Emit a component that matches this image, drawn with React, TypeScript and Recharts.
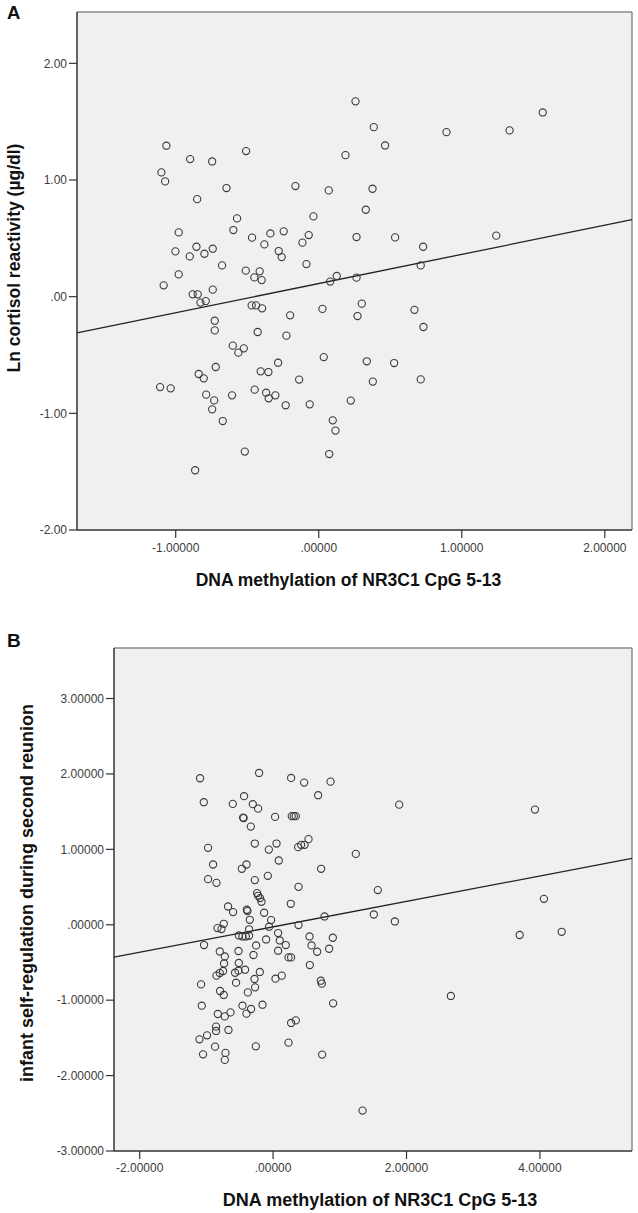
import React from 'react';
import { ScatterChart, Scatter, XAxis, YAxis, CartesianGrid, ReferenceLine } from 'recharts';

// Panel A: methylation vs ln cortisol reactivity
const methylationA = [
  0.257, 0.385, 0.464, 0.187, -1.065, -0.899, -0.745, -0.508, -1.1, -1.074,
  -0.645, -0.163, 0.07, 0.376, -0.85, 0.329, -0.571, -0.037, -0.979, -0.597,
  -0.466, -0.338, -0.245, -0.38, -0.07, -0.114, 0.264, 0.534, -1.002, -0.855,
  -0.902, -0.799, -0.741, -0.28, -0.259, -0.676, -0.086, -0.979, -0.51, -0.413,
  -0.45, -0.399, -1.084, 0.08, 0.126, 0.264, -0.881, -0.846, -0.741, -0.827,
  -0.79, -0.469, -0.438, -0.396, 0.026, 0.301, 0.669, -0.2, 0.271, -0.727,
  -0.727, -0.427, -0.226, -0.601, -0.524, -0.562, 0.035, -0.284, 0.336, 0.527,
  -0.72, -0.839, -0.804, -0.406, -0.352, -0.137, 0.378, -1.109, -1.035, -0.787,
  -0.731, -0.745, -0.606, -0.448, -0.368, -0.35, -0.303, -0.231, -0.063, 0.224,
  -0.671, 0.098, 0.117, -0.517, 0.073, -0.864, 0.893, 1.334, 1.566, 0.73,
  1.241, 0.713, 0.732, 0.713,
];
const cortisolA = [
  1.674, 1.453, 1.296, 1.213, 1.294, 1.179, 1.159, 1.248, 1.065, 0.988,
  0.931, 0.948, 0.911, 0.925, 0.836, 0.745, 0.671, 0.688, 0.551, 0.571,
  0.506, 0.542, 0.56, 0.448, 0.528, 0.463, 0.511, 0.508, 0.388, 0.428,
  0.345, 0.368, 0.411, 0.391, 0.339, 0.268, 0.279, 0.191, 0.223, 0.217,
  0.165, 0.142, 0.097, 0.129, 0.177, 0.163, 0.02, 0.02, 0.06, -0.051,
  -0.038, -0.075, -0.075, -0.1, -0.105, -0.06, -0.113, -0.16, -0.166, -0.206,
  -0.289, -0.303, -0.334, -0.42, -0.443, -0.48, -0.518, -0.566, -0.554, -0.569,
  -0.603, -0.663, -0.7, -0.64, -0.646, -0.711, -0.728, -0.775, -0.786, -0.84,
  -0.889, -0.966, -0.846, -0.797, -0.823, -0.871, -0.846, -0.931, -0.923, -0.891,
  -1.066, -1.06, -1.148, -1.328, -1.349, -1.488, 1.41, 1.425, 1.579, 0.428,
  0.523, 0.268, -0.26, -0.709,
];
const fitLineA = [{ x: -1.69, y: -0.31 }, { x: 2.19, y: 0.66 }];
const xDomainA: [number, number] = [-1.69, 2.19];
const yDomainA: [number, number] = [-2, 2.44];
const xTicksA = [-1, 0, 1, 2];
const yTicksA = [-2, -1, 0, 1, 2];

// Panel B: methylation vs infant self-regulation
const methylationB = [
  -1.095, -0.21, 0.27, 0.465, 0.861, 0.675, -1.039, -0.604, -0.435, -0.304,
  -0.225, -0.45, -0.442, -0.334, 0.03, 0.28, 0.31, 0.34, -0.975, -0.274,
  -0.064, 0.051, 0.375, 0.42, 0.471, 0.531, 1.24, -0.9, -0.399, -0.469,
  0.085, 0.72, -0.975, -0.849, -0.274, -0.079, 0.381, -0.24, -0.225, -0.195,
  -0.174, 0.265, -0.675, -0.6, -0.394, -0.384, -0.135, -0.349, -0.03, 0.771,
  -0.834, -0.774, -0.739, -0.36, -0.06, 0.381, -0.514, -0.459, -0.409, -0.36,
  0.075, 0.1, 0.19, -0.105, -0.255, -0.294, -0.519, -0.799, -1.035, -0.724,
  -0.735, -0.75, -0.799, -0.849, -0.514, -0.519, -0.57, -0.42, -0.199, -0.279,
  -0.555, -0.27, -0.379, 0.075, 0.231, 0.27, 0.546, 0.576, 0.66, 0.84,
  0.895, 0.55, 0.13, 0.036, -1.08, -0.795, -0.739, 0.715, 0.73, -1.069,
  -0.829, -0.724, -0.639, -0.459, -0.33, -0.399, -0.159, 0.9, -0.855, -0.855,
  -0.669, -0.99, -1.104, -0.87, -1.05, -0.714, -0.724, -0.259, 0.27, 0.34,
  0.231, 0.735, 1.51, 1.825, 1.341, 2.665, 3.696, 4.326, 1.89, 3.925,
  1.57, 4.06,
];
const selfRegulationB = [
  1.943, 2.013, 1.947, 1.885, 1.898, 1.718, 1.625, 1.603, 1.705, 1.599,
  1.54, 1.421, 1.415, 1.302, 1.43, 1.44, 1.44, 1.44, 1.02, 1.077,
  0.997, 1.077, 1.029, 1.06, 1.06, 1.135, 0.94, 0.799, 0.799, 0.742,
  0.852, 0.742, 0.605, 0.556, 0.592, 0.649, 0.503, 0.42, 0.384, 0.354,
  0.305, 0.278, 0.242, 0.168, 0.199, 0.181, 0.159, 0.066, 0.062, 0.11,
  -0.044, -0.057, 0.013, -0.06, -0.026, -0.004, -0.142, -0.155, -0.155, -0.146,
  -0.11, -0.208, -0.269, -0.195, -0.274, -0.401, -0.348, -0.354, -0.269, -0.42,
  -0.513, -0.613, -0.64, -0.675, -0.507, -0.609, -0.636, -0.596, -0.626, -0.719,
  -0.768, -0.83, -0.897, -0.344, -0.433, -0.433, -0.155, -0.274, -0.358, -0.318,
  -0.172, -0.534, -0.675, -0.715, -0.791, -0.878, -0.931, -0.742, -0.781, -1.073,
  -1.183, -1.215, -1.162, -1.073, -1.117, -1.179, -1.06, -1.042, -1.351, -1.408,
  -1.395, -1.466, -1.519, -1.616, -1.718, -1.699, -1.792, -1.612, -1.302, -1.268,
  -1.563, -1.722, 0.136, 0.044, -2.464, -0.944, -0.136, -0.093, 1.593, 1.527,
  0.46, 0.344,
];
const fitLineB = [{ x: -2.385, y: -0.43 }, { x: 5.38, y: 0.88 }];
const xDomainB: [number, number] = [-2.385, 5.38];
const yDomainB: [number, number] = [-3, 3.67];
const xTicksB = [-2, 0, 2, 4];
const yTicksB = [-3, -2, -1, 0, 1, 2, 3];

const FONT = "'Liberation Sans', Arial, Helvetica, sans-serif";
const AXIS = '#333';
const FRAME = '#8a8a8a';

// SPSS style: ".00" instead of "0.00"
const fmt = (digits: number) => (v: number) =>
  v.toFixed(digits).replace(/^(-?)0\./, '$1.');

const Ring = (props: any) => (
  <circle cx={props.cx} cy={props.cy} r={3.6} fill="none" stroke="#3a3a3a" strokeWidth={1.1} />
);

interface PanelProps {
  xs: number[];
  ys: number[];
  fit: { x: number; y: number }[];
  xDomain: [number, number];
  yDomain: [number, number];
  xTicks: number[];
  yTicks: number[];
  xDigits: number;
  yDigits: number;
  height: number;
  yAxisWidth: number;
  margin: { top: number; right: number; bottom: number; left: number };
  tickMargin: number;
}

const Panel: React.FC<PanelProps> = (p) => {
  const points = p.xs.map((x, i) => ({ x, y: p.ys[i] }));
  const tickStyle = { fontSize: 12, fill: '#3c3c3c', fontFamily: FONT };
  return (
    <ScatterChart width={638} height={p.height} margin={p.margin}>
      <CartesianGrid horizontal={false} vertical={false} fill="#f0f0f0" fillOpacity={1} />
      <XAxis
        type="number"
        dataKey="x"
        domain={p.xDomain}
        ticks={p.xTicks}
        tickFormatter={fmt(p.xDigits)}
        allowDataOverflow
        height={30}
        tick={tickStyle}
        tickSize={8}
        tickMargin={p.tickMargin}
        tickLine={{ stroke: AXIS, strokeWidth: 1.2 }}
        axisLine={{ stroke: AXIS, strokeWidth: 1.5 }}
      />
      <YAxis
        type="number"
        dataKey="y"
        domain={p.yDomain}
        ticks={p.yTicks}
        tickFormatter={fmt(p.yDigits)}
        allowDataOverflow
        width={p.yAxisWidth}
        tick={tickStyle}
        tickSize={8}
        tickMargin={2}
        tickLine={{ stroke: AXIS, strokeWidth: 1.2 }}
        axisLine={{ stroke: AXIS, strokeWidth: 1.5 }}
      />
      <ReferenceLine y={p.yDomain[1]} stroke={FRAME} strokeWidth={1.5} />
      <ReferenceLine x={p.xDomain[1]} stroke={FRAME} strokeWidth={1.5} />
      <Scatter data={points} shape={Ring} isAnimationActive={false} />
      <ReferenceLine segment={p.fit} stroke="#222" strokeWidth={1.3} ifOverflow="visible" />
    </ScatterChart>
  );
};

export default function App() {
  const bold = { fontFamily: FONT, fontWeight: 700, fill: '#111' } as const;
  return (
    <div style={{ position: 'absolute', left: 0, top: 0, width: 638, height: 1213, background: '#fff' }}>
      <div style={{ position: 'absolute', left: 0, top: 0 }}>
        <Panel
          xs={methylationA}
          ys={cortisolA}
          fit={fitLineA}
          xDomain={xDomainA}
          yDomain={yDomainA}
          xTicks={xTicksA}
          yTicks={yTicksA}
          xDigits={5}
          yDigits={2}
          height={600}
          yAxisWidth={77}
          margin={{ top: 12, right: 6, bottom: 40, left: 0 }}
          tickMargin={5}
        />
      </div>
      <div style={{ position: 'absolute', left: 0, top: 600 }}>
        <Panel
          xs={methylationB}
          ys={selfRegulationB}
          fit={fitLineB}
          xDomain={xDomainB}
          yDomain={yDomainB}
          xTicks={xTicksB}
          yTicks={yTicksB}
          xDigits={5}
          yDigits={5}
          height={613}
          yAxisWidth={114}
          margin={{ top: 48, right: 6, bottom: 32, left: 0 }}
          tickMargin={4}
        />
      </div>
      <svg width={638} height={1213} style={{ position: 'absolute', left: 0, top: 0, pointerEvents: 'none' }}>
        <text x={7} y={18.5} fontSize={18.5} {...bold}>A</text>
        <text x={7} y={647} fontSize={19} {...bold}>B</text>
        <text x={348.5} y={585.5} fontSize={17.5} textAnchor="middle" {...bold}>
          DNA methylation of NR3C1 CpG 5-13
        </text>
        <text x={20} y={258} fontSize={17.5} textAnchor="middle" transform="rotate(-90 20 258)" {...bold}>
          Ln cortisol reactivity (µg/dl)
        </text>
        <text x={380} y={1206} fontSize={18} textAnchor="middle" {...bold}>
          DNA methylation of NR3C1 CpG 5-13
        </text>
        <text x={33.3} y={893} fontSize={18} textAnchor="middle" transform="rotate(-90 33.3 893)" {...bold}>
          infant self-regulation during second reunion
        </text>
      </svg>
    </div>
  );
}
